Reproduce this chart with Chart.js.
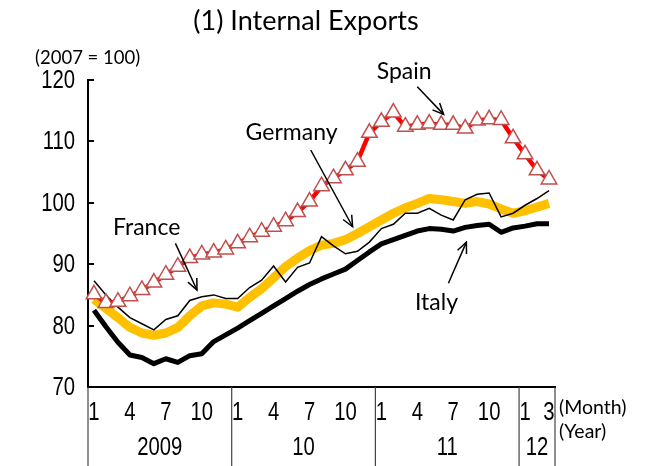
<!DOCTYPE html>
<html><head><meta charset="utf-8">
<script src="https://cdn.jsdelivr.net/npm/chart.js@4/dist/chart.umd.min.js"></script>
<style>html,body{margin:0;padding:0;background:#fff}#wrap{width:650px;height:466px;position:relative}</style>
</head><body><div id="wrap"><canvas id="c" width="650" height="466"></canvas></div>
<script>
// Categories: months Jan 2009 .. Mar 2012
const months = [1,2,3,4,5,6,7,8,9,10,11,12, 1,2,3,4,5,6,7,8,9,10,11,12, 1,2,3,4,5,6,7,8,9,10,11,12, 1,2,3];
const years = ['2009','10','11','12'];
const shownMonths = [1,4,7,10];
const yTicks = [70,80,90,100,110,120];

// Series (2007 = 100)
const spain   = [85.1,83.7,83.9,84.8,85.8,87.0,88.3,89.6,91.0,91.6,91.9,92.4, 93.4,94.4,95.3,96.1,97.0,98.5,100.2,102.7,104.0,105.3,106.7,111.4, 113.2,114.7,112.4,112.7,112.9,112.7,112.7,112.1,113.4,113.6,113.5,110.5, 107.9,105.3,103.8];
const france  = [87.3,85.0,83.0,81.3,80.3,79.3,81.0,81.6,84.1,84.7,85.0,84.4, 84.4,86.2,87.4,89.7,87.1,89.5,90.2,94.5,93.0,91.7,92.1,93.6, 95.8,96.5,98.3,98.3,99.1,98.0,97.2,100.5,101.4,101.6,97.7,98.3, 99.6,100.7,102.0];
const germany = [84.3,82.8,81.3,79.7,78.8,78.4,78.8,79.7,81.6,83.2,83.7,83.5, 83.0,84.6,86.0,87.8,89.6,91.0,92.2,93.1,93.4,94.0,95.0,96.1, 97.2,98.3,99.2,99.9,100.7,100.5,100.2,99.9,100.2,99.8,99.0,98.3, 98.7,99.3,99.9];
const italy   = [82.5,79.8,77.3,75.2,74.8,73.8,74.6,74.0,75.1,75.4,77.4,78.5, 79.6,80.8,82.0,83.2,84.4,85.6,86.7,87.6,88.4,89.2,90.6,92.0, 93.3,94.0,94.7,95.4,95.8,95.7,95.4,96.0,96.3,96.5,95.2,95.9, 96.2,96.6,96.6];

// Annotations in data units: [text, textX, textY, arrowFromX, arrowFromY, arrowToX, arrowToY]
const annotations = [
  ['Spain',   25.9, 121.3, 27.0, 118.9, 29.2, 114.4],
  ['Germany', 16.5, 111.4, 18.1, 108.6, 21.6, 96.1],
  ['France',   4.4,  95.9,  6.8,  93.4,  8.6, 85.8],
  ['Italy',   28.6,  83.8, 29.6,  86.9, 31.1, 93.6]
];

const NARROW = "'Liberation Sans Narrow','Liberation Sans',sans-serif";
const HUMAN = "Lato,'Open Sans',sans-serif";

function narrowText(ctx, t, x, y, align) {
  ctx.save();
  ctx.translate(x, y);
  ctx.scale(0.78, 1);
  ctx.textAlign = align;
  ctx.fillText(t, 0, 0);
  ctx.restore();
}

const overlay = {
  id: 'overlay',
  afterDraw(chart) {
    const ctx = chart.ctx, xs = chart.scales.x, ys = chart.scales.y, ca = chart.chartArea;
    ctx.save();
    ctx.fillStyle = '#000';
    // inward y ticks + y tick labels
    ctx.strokeStyle = '#000'; ctx.lineWidth = 2;
    ctx.font = '26px ' + NARROW; ctx.textBaseline = 'middle';
    yTicks.forEach(v => {
      const y = Math.round(ys.getPixelForValue(v));
      if (v !== ys.min) { ctx.beginPath(); ctx.moveTo(ca.left, y); ctx.lineTo(ca.left + 6, y); ctx.stroke(); }
      narrowText(ctx, String(v), ca.left - 13, y + 1, 'right');
    });
    // x tick labels
    months.forEach((m, i) => {
      if (shownMonths.includes(m) || i === months.length - 1) {
        narrowText(ctx, String(m), xs.getPixelForValue(i), ca.bottom + 26, 'center');
      }
    });
    // year separators + year labels
    const band = xs.getPixelForValue(1) - xs.getPixelForValue(0);
    const starts = [];
    months.forEach((m, i) => { if (m === 1) starts.push(i); });
    ctx.strokeStyle = '#444'; ctx.lineWidth = 1.2;
    starts.forEach((s, k) => {
      const e = (k + 1 < starts.length ? starts[k + 1] : months.length) - 1;
      const l = xs.getPixelForValue(s) - band / 2, r = xs.getPixelForValue(e) + band / 2;
      ctx.beginPath(); ctx.moveTo(l, ca.bottom); ctx.lineTo(l, chart.height); ctx.stroke();
      if (k === starts.length - 1) { ctx.beginPath(); ctx.moveTo(r, ca.bottom); ctx.lineTo(r, chart.height); ctx.stroke(); }
      narrowText(ctx, years[k], (l + r) / 2, ca.bottom + 61, 'center');
    });
    // unit texts
    ctx.textAlign = 'left';
    ctx.font = '19.5px ' + HUMAN;
    ctx.fillText('(Month)', ca.right + 4, ca.bottom + 21);
    ctx.fillText('(Year)', ca.right + 4, ca.bottom + 45);
    ctx.font = '18.5px ' + HUMAN;
    ctx.fillText('(2007 = 100)', 35, 58);
    // title
    ctx.textAlign = 'center';
    ctx.font = '27px ' + HUMAN;
    ctx.fillText('(1) Internal Exports', 306, 21);
    // annotations
    ctx.font = '23px ' + HUMAN;
    ctx.lineWidth = 1.5; ctx.strokeStyle = '#000';
    annotations.forEach(a => {
      const tx = xs.getPixelForValue(a[1]), ty = ys.getPixelForValue(a[2]);
      ctx.fillText(a[0], tx, ty);
      const x1 = xs.getPixelForValue(a[3]), y1 = ys.getPixelForValue(a[4]);
      const x2 = xs.getPixelForValue(a[5]), y2 = ys.getPixelForValue(a[6]);
      ctx.beginPath(); ctx.moveTo(x1, y1); ctx.lineTo(x2, y2); ctx.stroke();
      const ang = Math.atan2(y2 - y1, x2 - x1), hl = 12, spread = 0.42;
      ctx.beginPath();
      ctx.moveTo(x2 - hl * Math.cos(ang - spread), y2 - hl * Math.sin(ang - spread));
      ctx.lineTo(x2, y2);
      ctx.lineTo(x2 - hl * Math.cos(ang + spread), y2 - hl * Math.sin(ang + spread));
      ctx.stroke();
    });
    ctx.restore();
  }
};

new Chart(document.getElementById('c').getContext('2d'), {
  type: 'line',
  data: {
    labels: months.map(String),
    datasets: [
      { label: 'Spain', data: spain, borderColor: '#FF0000', borderWidth: 4.5, pointStyle: 'triangle', pointRadius: 9,
        pointBorderColor: '#C0504D', pointBackgroundColor: '#FFFFFF', pointBorderWidth: 1.5, tension: 0 },
      { label: 'France', data: france, borderColor: '#000000', borderWidth: 1.5, pointRadius: 0, tension: 0 },
      { label: 'Germany', data: germany, borderColor: '#FFC000', borderWidth: 9, pointRadius: 0, tension: 0, borderJoinStyle: 'round' },
      { label: 'Italy', data: italy, borderColor: '#000000', borderWidth: 5, pointRadius: 0, tension: 0, borderJoinStyle: 'round' }
    ]
  },
  options: {
    responsive: false, animation: false, devicePixelRatio: 1,
    layout: { padding: { top: 80, right: 95, left: 0, bottom: 0 } },
    plugins: { legend: { display: false }, title: { display: false }, tooltip: { enabled: false } },
    scales: {
      x: {
        type: 'category', offset: true,
        grid: { display: false, drawTicks: false },
        border: { display: true, color: '#000', width: 2 },
        ticks: { display: false, autoSkip: false },
        afterFit(s) { s.height = 79; }
      },
      y: {
        min: 70, max: 120,
        afterBuildTicks(s) { s.ticks = yTicks.map(v => ({ value: v })); },
        grid: { display: false, drawTicks: false },
        border: { display: true, color: '#000', width: 2 },
        ticks: { display: false },
        afterFit(s) { s.width = 88; }
      }
    }
  },
  plugins: [overlay]
});
</script>
</body></html>
